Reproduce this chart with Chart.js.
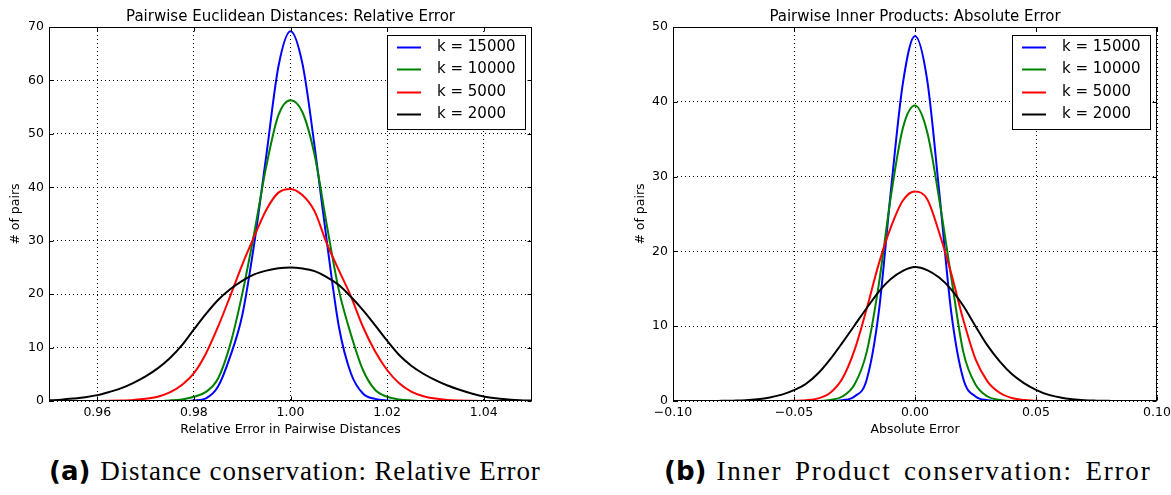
<!DOCTYPE html>
<html>
<head>
<meta charset="utf-8">
<title>Pairwise error distributions</title>
<script src="https://cdn.jsdelivr.net/npm/chart.js@4.4.1/dist/chart.umd.min.js"></script>
<style>
  html, body { margin: 0; padding: 0; background: #fff; overflow: hidden; }
  body { width: 1171px; height: 495px; position: relative; }
  .panel { position: absolute; top: 0; }
  #panelA { left: 0; }
  #panelB { left: 600px; }
  .caption {
    position: absolute; top: 456px; line-height: 30px; white-space: nowrap;
    font-family: "Liberation Serif", "DejaVu Serif", serif; font-size: 27px; color: #000;
  }
  .caption b {
    font-family: "DejaVu Sans", sans-serif; font-weight: bold; font-size: 26px;
    letter-spacing: 0; word-spacing: 0; margin-right: 10px;
  }
  #capA { left: 49px; letter-spacing: 0.9px; }
  #capB { left: 664px; letter-spacing: 1.8px; word-spacing: 4px; }
</style>
</head>
<body>
<canvas id="panelA" class="panel" width="560" height="445"></canvas>
<canvas id="panelB" class="panel" width="590" height="445"></canvas>
<div id="capA" class="caption"><b>(a)</b>Distance conservation: Relative Error</div>
<div id="capB" class="caption"><b>(b)</b>Inner Product conservation: Error</div>

<script>
// ── Panel (a): relative error of pairwise distances ─────────────────────────
const xA = [0.95, 0.9525, 0.955, 0.9575, 0.96, 0.9625, 0.965, 0.9675, 0.97, 0.9725,
            0.975, 0.9775, 0.98, 0.9825, 0.985, 0.9875, 0.99, 0.9925, 0.995, 0.9975,
            1.00, 1.0025, 1.005, 1.0075, 1.01, 1.0125, 1.015, 1.0175, 1.02, 1.0225,
            1.025, 1.0275, 1.03, 1.0325, 1.035, 1.0375, 1.04, 1.0425, 1.045, 1.0475, 1.05];
const k15000A = [0, 0, 0, 0, 0, 0, 0, 0, 0, 0, 0, 0,
                 0.1, 0.5, 2.7, 8.3, 16, 29.5, 46, 62.6, 69.2, 63, 47.6, 30, 14, 5.2, 1.4, 0.4, 0.1,
                 0, 0, 0, 0, 0, 0, 0, 0, 0, 0, 0, 0];
const k10000A = [0, 0, 0, 0, 0, 0, 0, 0, 0, 0,
                 0.1, 0.3, 0.8, 1.7, 4.2, 10.5, 20, 31.5, 44, 53.5, 56.3, 54, 46, 33, 20.8, 12.5,
                 5.8, 2.1, 0.8, 0.3, 0.1,
                 0, 0, 0, 0, 0, 0, 0, 0, 0, 0];
const k5000A = [0, 0, 0, 0,
                0.02, 0.05, 0.1, 0.2, 0.4, 0.8, 1.6, 3.0, 5.2, 8.9, 13.9, 19.6, 25.5, 30.8, 35.8,
                39.0, 39.7, 38.5, 35.5, 29.5, 24.5, 19.6, 13.9, 9.3, 5.8, 3.3, 1.75, 0.9, 0.45,
                0.2, 0.1, 0.05, 0.02,
                0, 0, 0, 0];
const k2000A = [0.12, 0.25, 0.45, 0.7, 1.1, 1.7, 2.4, 3.4, 4.6, 6.1, 8.0, 10.4, 13.4, 16.3,
                18.9, 20.9, 22.5, 23.7, 24.4, 24.85, 25.0, 24.8, 24.3, 23.2, 21.7, 19.5, 17.0,
                14.2, 11.3, 8.6, 6.6, 5.1, 3.9, 2.9, 2.1, 1.4, 0.85, 0.5, 0.3, 0.15, 0.08];
const xTicksA = [0.96, 0.98, 1.00, 1.02, 1.04];
const yTicksA = [0, 10, 20, 30, 40, 50, 60, 70];

// ── Panel (b): absolute error of pairwise inner products ────────────────────
const xB = [-0.1, -0.095, -0.09, -0.085, -0.08, -0.075, -0.07, -0.065, -0.06, -0.055,
            -0.05, -0.045, -0.04, -0.035, -0.03, -0.025, -0.02, -0.015, -0.01, -0.005,
            0, 0.005, 0.01, 0.015, 0.02, 0.025, 0.03, 0.035, 0.04, 0.045,
            0.05, 0.055, 0.06, 0.065, 0.07, 0.075, 0.08, 0.085, 0.09, 0.095, 0.1];
const k15000B = [0, 0, 0, 0, 0, 0, 0, 0, 0, 0, 0, 0, 0, 0,
                 0.1, 0.6, 2.8, 11.8, 28, 42.5, 48.8, 43, 28, 11.8, 2.9, 0.6, 0.1,
                 0, 0, 0, 0, 0, 0, 0, 0, 0, 0, 0, 0, 0, 0];
const k10000B = [0, 0, 0, 0, 0, 0, 0, 0, 0, 0, 0, 0, 0,
                 0.15, 0.6, 2.2, 6.5, 15.5, 27.3, 36.5, 39.5, 36.0, 27.0, 16.5, 6.5, 2.2, 0.6, 0.15,
                 0, 0, 0, 0, 0, 0, 0, 0, 0, 0, 0, 0, 0];
const k5000B = [0, 0, 0, 0, 0, 0, 0, 0, 0, 0,
                0.03, 0.1, 0.35, 1.1, 3.0, 6.8, 12.3, 18.3, 23.2, 26.8, 28.0, 27.0, 22.5, 17.0,
                10.8, 5.6, 2.6, 1.1, 0.4, 0.12, 0.03,
                0, 0, 0, 0, 0, 0, 0, 0, 0, 0];
const k2000B = [0, 0, 0, 0,
                0.02, 0.05, 0.1, 0.24, 0.48, 0.85, 1.45, 2.3, 3.7, 5.6, 7.8, 10.1, 12.4, 14.6, 16.3,
                17.4, 17.9, 17.5, 16.5, 14.9, 12.7, 10.0, 7.4, 5.3, 3.6, 2.4, 1.5, 0.85, 0.48,
                0.24, 0.1, 0.05, 0.02,
                0, 0, 0, 0];
const xTicksB = [-0.10, -0.05, 0.00, 0.05, 0.10];
const yTicksB = [0, 10, 20, 30, 40, 50];

const seriesLabels = ['k = 15000', 'k = 10000', 'k = 5000', 'k = 2000'];
const seriesColors = ['#0000ff', '#008000', '#ff0000', '#000000'];

Chart.defaults.font.family = "'DejaVu Sans', 'Bitstream Vera Sans', sans-serif";
Chart.defaults.color = '#000';

const pairs = (xs, ys) => xs.map((x, i) => ({ x, y: ys[i] }));

// box around the axes plus short inward ticks on every side
const axesFrame = {
  id: 'axesFrame',
  afterDatasetsDraw(chart) {
    const { ctx, chartArea: a, scales: { x, y } } = chart;
    const L = Math.round(a.left) + 0.5, R = Math.round(a.right) - 0.5;
    const T = Math.round(a.top) + 0.5, B = Math.round(a.bottom) - 0.5;
    ctx.save();
    ctx.strokeStyle = '#000';
    ctx.lineWidth = 1;
    ctx.beginPath();
    x.ticks.forEach(t => {
      const px = Math.round(x.getPixelForValue(t.value)) + 0.5;
      ctx.moveTo(px, T); ctx.lineTo(px, T + 4);
      ctx.moveTo(px, B); ctx.lineTo(px, B - 4);
    });
    y.ticks.forEach(t => {
      const py = Math.round(y.getPixelForValue(t.value)) + 0.5;
      ctx.moveTo(L, py); ctx.lineTo(L + 4, py);
      ctx.moveTo(R, py); ctx.lineTo(R - 4, py);
    });
    ctx.stroke();
    ctx.strokeRect(L, T, R - L, B - T);
    ctx.restore();
  }
};

// legend box sitting inside the upper right corner of the plot
const innerLegend = {
  id: 'innerLegend',
  afterDraw(chart) {
    const { ctx, chartArea: a } = chart;
    const w = 138, h = 94;
    const bx = Math.round(a.right) - 7 - w, by = Math.round(a.top) + 8;
    ctx.save();
    ctx.fillStyle = '#fff';
    ctx.fillRect(bx, by, w, h);
    ctx.strokeStyle = '#000';
    ctx.lineWidth = 1;
    ctx.strokeRect(bx + 0.5, by + 0.5, w, h);
    ctx.font = "15px 'DejaVu Sans', sans-serif";
    ctx.textBaseline = 'middle';
    chart.data.datasets.forEach((ds, i) => {
      const cy = Math.round(by + 11.7 + i * 22.5) + 0.5;
      ctx.strokeStyle = ds.borderColor;
      ctx.lineWidth = 2;
      ctx.beginPath();
      ctx.moveTo(bx + 10, cy);
      ctx.lineTo(bx + 34, cy);
      ctx.stroke();
      ctx.fillStyle = '#000';
      ctx.fillText(ds.label, bx + 50, cy);
    });
    ctx.restore();
  }
};

function buildPanel(canvasId, cfg) {
  const datasets = cfg.series.map((ys, i) => ({
    label: seriesLabels[i],
    data: pairs(cfg.xs, ys),
    borderColor: seriesColors[i],
    borderWidth: 2,
    pointRadius: 0,
    fill: false,
    cubicInterpolationMode: 'monotone',
    order: cfg.series.length - 1 - i   // later series drawn on top
  }));

  return new Chart(document.getElementById(canvasId), {
    type: 'line',
    data: { datasets },
    plugins: [axesFrame, innerLegend],
    options: {
      responsive: false,
      animation: false,
      events: [],
      layout: { padding: { left: 0, right: cfg.padRight, top: 0, bottom: 0 } },
      plugins: {
        legend: { display: false },
        tooltip: { enabled: false },
        title: {
          display: true,
          text: cfg.title,
          fullSize: false,
          font: { size: 15, weight: 'normal' },
          padding: { top: 8, bottom: 1 }
        }
      },
      scales: {
        x: {
          type: 'linear',
          min: cfg.xMin,
          max: cfg.xMax,
          afterBuildTicks: s => { s.ticks = cfg.xTicks.map(v => ({ value: v })); },
          afterFit: s => { s.height = 44; },
          ticks: {
            autoSkip: false,
            maxRotation: 0,
            padding: 4,
            font: { size: 12.5 },
            callback: cfg.xFormat
          },
          grid: { color: '#000', lineWidth: 1, drawTicks: false },
          border: { display: false, dash: [1, 3] },
          title: {
            display: true,
            text: cfg.xTitle,
            font: { size: 12.5 },
            padding: { top: 0, bottom: 8 }
          }
        },
        y: {
          type: 'linear',
          min: 0,
          max: cfg.yMax,
          afterBuildTicks: s => { s.ticks = cfg.yTicks.map(v => ({ value: v })); },
          afterFit: s => { s.width = cfg.yWidth; },
          ticks: { padding: 5, font: { size: 12.5 } },
          grid: { color: '#000', lineWidth: 1, drawTicks: false },
          border: { display: false, dash: [1, 3] },
          title: {
            display: true,
            text: '# of pairs',
            font: { size: 12.5 },
            padding: { top: cfg.yTitlePad, bottom: 0 }
          }
        }
      }
    }
  });
}

buildPanel('panelA', {
  xs: xA,
  series: [k15000A, k10000A, k5000A, k2000A],
  title: 'Pairwise Euclidean Distances: Relative Error',
  xTitle: 'Relative Error in Pairwise Distances',
  xMin: 0.95, xMax: 1.05, yMax: 70,
  xTicks: xTicksA, yTicks: yTicksA,
  xFormat: v => v.toFixed(2),
  yWidth: 49, yTitlePad: 8, padRight: 28
});

buildPanel('panelB', {
  xs: xB,
  series: [k15000B, k10000B, k5000B, k2000B],
  title: 'Pairwise Inner Products: Absolute Error',
  xTitle: 'Absolute Error',
  xMin: -0.1, xMax: 0.1, yMax: 50,
  xTicks: xTicksB, yTicks: yTicksB,
  xFormat: v => (v < 0 ? '\u2212' : '') + Math.abs(v).toFixed(2),
  yWidth: 73, yTitlePad: 33, padRight: 33
});
</script>
</body>
</html>
